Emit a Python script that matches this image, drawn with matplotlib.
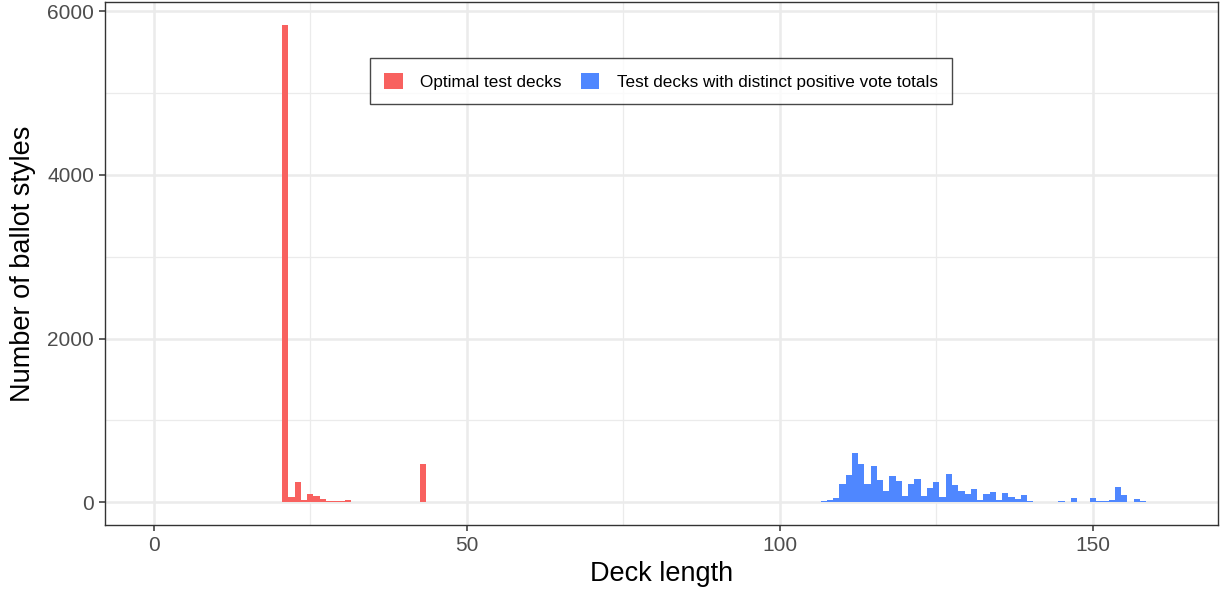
import numpy as np
import matplotlib.pyplot as plt

plt.rcParams['font.family'] = ['Liberation Sans', 'DejaVu Sans']

# deck lengths (bin centres) and number of ballot styles per bin
optimal_len = [21, 22, 23, 24, 25, 26, 27, 28, 29, 30, 31, 43]
optimal_cnt = [5830, 65, 250, 25, 105, 80, 40, 15, 15, 15, 30, 460]

distinct_len = list(range(107, 143)) + [145, 147, 149, 150, 151, 152, 153, 154, 155, 157, 158, 161]
distinct_cnt = [18, 30, 53, 224, 329, 602, 460, 220, 443, 268, 138, 321,
                264, 69, 224, 277, 73, 171, 252, 61, 346, 207, 138, 94,
                163, 24, 98, 118, 20, 110, 65, 41, 81, 16, 5, 5,
                8, 45, 5, 45, 8, 8, 24, 183, 90, 37, 18, 5]

red = '#F8615F'
blue = '#4F87FF'

fig = plt.figure(figsize=(12.2, 5.99), dpi=100)
ax = fig.add_axes([0.0861, 0.1235, 0.9123, 0.8732])

ax.bar(optimal_len, optimal_cnt, width=1.0, color=red, label='Optimal test decks', zorder=3)
ax.bar(distinct_len, distinct_cnt, width=1.0, color=blue,
       label='Test decks with distinct positive vote totals', zorder=3)

ax.set_xlim(-7.8, 170)
ax.set_ylim(-280, 6115)
ax.set_xticks([0, 50, 100, 150])
ax.set_yticks([0, 2000, 4000, 6000])
ax.set_xticks([25, 75, 125], minor=True)
ax.set_yticks([1000, 3000, 5000], minor=True)
ax.grid(True, which='major', color='#EBEBEB', linewidth=1.8, zorder=0)
ax.grid(True, which='minor', color='#EBEBEB', linewidth=0.9, zorder=0)
ax.tick_params(which='major', length=4, width=1.1, color='#333333',
               labelsize=15, labelcolor='#4D4D4D', pad=4)
ax.tick_params(which='minor', length=0)
for s in ax.spines.values():
    s.set_color('#333333')
    s.set_linewidth(1.0)

ax.set_xlabel('Deck length', fontsize=19.5, labelpad=4)
ax.set_ylabel('Number of ballot styles', fontsize=19.5, labelpad=8)

leg = ax.legend(loc='upper center', bbox_to_anchor=(0.4995, 0.9085), ncol=2,
                fontsize=12.3, frameon=True, fancybox=False, edgecolor='#1a1a1a',
                handlelength=1.1, handleheight=1.1, columnspacing=1.1,
                borderpad=0.85, handletextpad=1.0)
leg.get_frame().set_linewidth(1.0)

fig.savefig('out.png', dpi=100)
